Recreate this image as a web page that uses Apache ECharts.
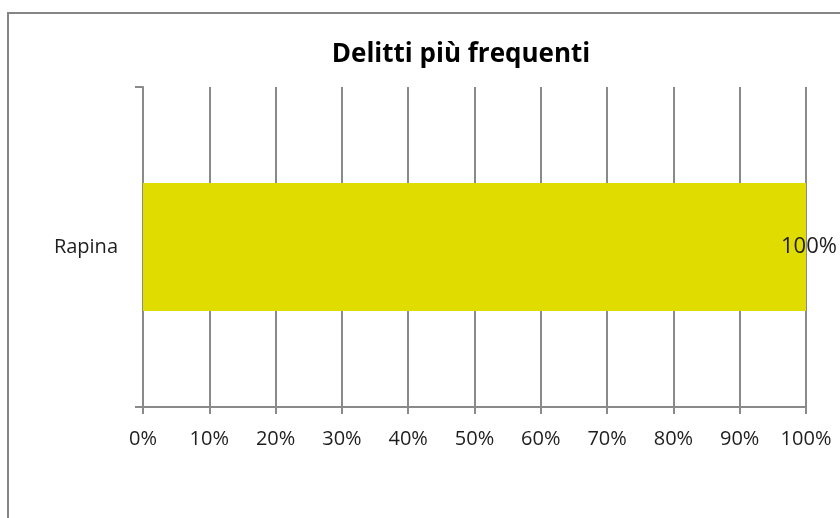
<!DOCTYPE html>
<html>
<head>
<meta charset="utf-8">
<script src="https://cdn.jsdelivr.net/npm/echarts@6/dist/echarts.min.js"></script>
<style>
	html, body { margin: 0; padding: 0; background: #ffffff; }
	#chart { width: 840px; height: 518px; }
</style>
</head>
<body>
<div id="chart"></div>
<script>
//Chart data
let categories = ["Rapina"];
let series_values = [100];
let chart_title = "Delitti più frequenti";

//Declare local instance variables
let font_family = "'Open Sans', 'Liberation Sans', sans-serif";
let axis_colour = "#8a8a8a";
let text_colour = "#1e1e1e";
let chart = echarts.init(document.getElementById("chart"), null, { renderer: "canvas" });

chart.setOption({
	animation: false,
	title: {
		text: chart_title,
		left: 456,
		top: 37,
		textAlign: "center",
		textStyle: {
			color: "#000000",
			fontFamily: font_family,
			fontSize: 26,
			fontWeight: "bold"
		}
	},
	graphic: [{
		type: "rect",
		shape: { x: 8, y: 13, width: 900, height: 600 },
		style: { fill: "none", stroke: "#858585", lineWidth: 2 },
		silent: true
	}],
	grid: {
		left: 143,
		right: 34,
		top: 87,
		bottom: 111,
		containLabel: false
	},
	xAxis: {
		type: "value",
		min: 0,
		max: 100,
		interval: 10,
		axisLine: { show: true, lineStyle: { color: axis_colour, width: 2 } },
		axisTick: { show: true, length: 7, lineStyle: { color: axis_colour, width: 2 } },
		splitLine: { show: true, lineStyle: { color: axis_colour, width: 2 } },
		axisLabel: {
			formatter: "{value}%",
			margin: 22,
			color: text_colour,
			fontFamily: font_family,
			fontSize: 20
		}
	},
	yAxis: {
		type: "category",
		data: categories,
		boundaryGap: true,
		axisLine: { show: true, lineStyle: { color: axis_colour, width: 2 } },
		axisTick: { show: true, length: 8, lineStyle: { color: axis_colour, width: 2 } },
		axisLabel: {
			margin: 25,
			color: text_colour,
			fontFamily: font_family,
			fontSize: 20
		}
	},
	series: [{
		type: "bar",
		data: series_values,
		barWidth: "40%",
		itemStyle: { color: "#e0dc00" },
		label: {
			show: true,
			position: "right",
			distance: -25,
			formatter: "{c}%",
			color: text_colour,
			fontFamily: font_family,
			fontSize: 22
		}
	}]
});
</script>
</body>
</html>
